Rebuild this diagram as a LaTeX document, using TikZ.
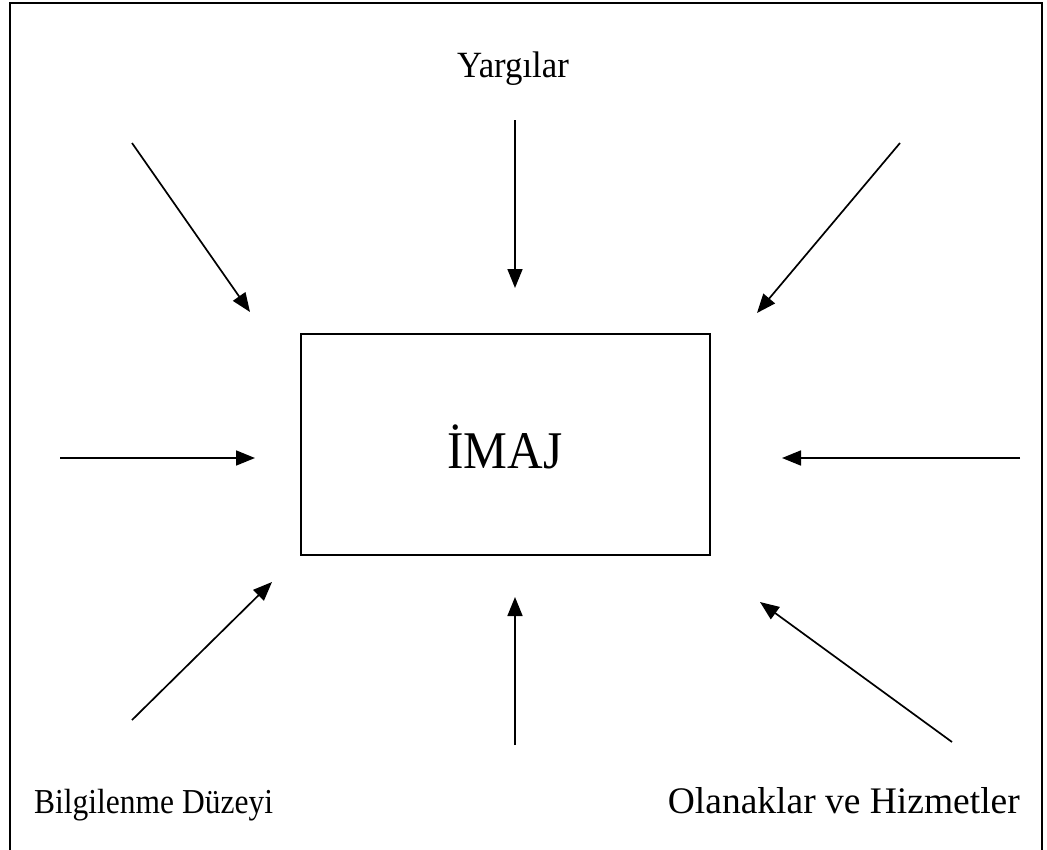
\documentclass[tikz,border=0pt]{standalone}
\usepackage{fontspec}
\setmainfont{Liberation Serif}
\usetikzlibrary{arrows.meta}
\begin{document}
\begin{tikzpicture}[x=1pt,y=-1pt,
  arr/.style={line width=1.7pt,-{Triangle[length=19pt,width=15pt]}},
  lbl/.style={anchor=base,inner sep=0pt}]
\useasboundingbox (0,0) rectangle (1047,849);
\begin{scope}
\clip (0,0) rectangle (1047,849);
\draw[line width=2.2pt] (10,3) rectangle (1042,870);
\end{scope}
\node[draw,line width=2pt,minimum width=409pt,minimum height=221pt,inner sep=0pt] (box) at (505,444.5) {};
\node[lbl,font=\fontsize{53}{64}\selectfont] (imaj) at (505,468) {\scalebox{0.93}[1]{İMAJ}};
\node[lbl,font=\fontsize{37}{44}\selectfont] (yarg) at (513,77) {\scalebox{0.94}[1]{Yargılar}};
\node[lbl,font=\fontsize{35}{42}\selectfont,anchor=base west] (bilg) at (34,813) {\scalebox{0.9}[1]{Bilgilenme Düzeyi}};
\node[lbl,font=\fontsize{37.5}{45}\selectfont,anchor=base east] (olan) at (1020,813) {Olanaklar ve Hizmetler};
\coordinate (a1s) at (132,143); \coordinate (a1e) at (250,312);
\coordinate (a2s) at (515,120); \coordinate (a2e) at (515,288);
\coordinate (a3s) at (900,143); \coordinate (a3e) at (757,313);
\coordinate (a4s) at (60,458);  \coordinate (a4e) at (255,458);
\coordinate (a5s) at (1020,458); \coordinate (a5e) at (782,458);
\coordinate (a6s) at (132,720); \coordinate (a6e) at (272,582);
\coordinate (a7s) at (515,745); \coordinate (a7e) at (515,597);
\coordinate (a8s) at (952,742); \coordinate (a8e) at (760,602);
\foreach \i in {1,...,8} \draw[arr] (a\i s) -- (a\i e);
\end{tikzpicture}
\end{document}
